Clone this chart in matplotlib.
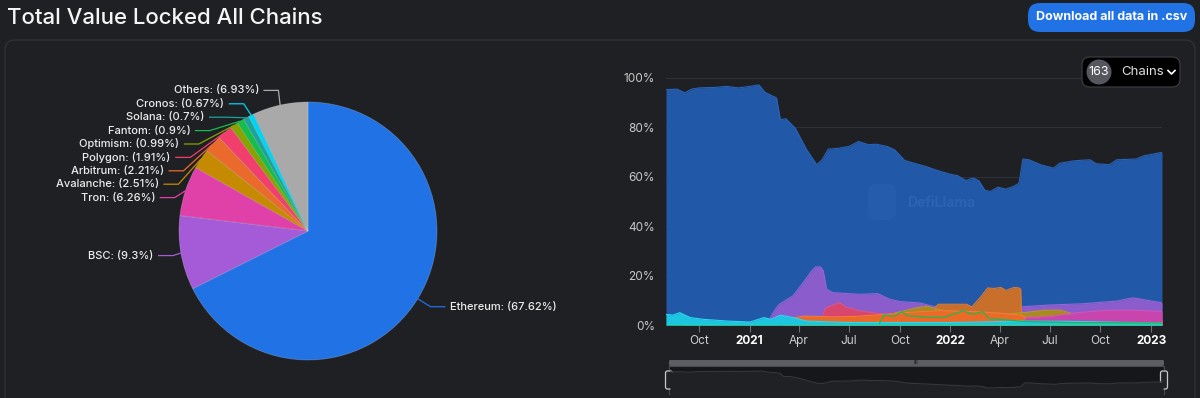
import numpy as np
import pandas as pd
import matplotlib
matplotlib.use("Agg")
import matplotlib.pyplot as plt
from matplotlib.patches import FancyBboxPatch, Circle

plt.rcParams['font.family'] = ['Inter', 'DejaVu Sans']

# ---- pie: current share of TVL (%) ----
pie_chains = ["Ethereum", "BSC", "Tron", "Avalanche", "Arbitrum", "Polygon",
              "Optimism", "Fantom", "Solana", "Cronos", "Others"]
pie_share = [67.62, 9.3, 6.26, 2.51, 2.21, 1.91, 0.99, 0.9, 0.7, 0.67, 6.93]
pie_colors = ["#2172e5", "#a55bd8", "#e041a8", "#c68a00", "#ea6a2c", "#f23e6c",
              "#86a300", "#14bd4c", "#18a39b", "#00d4f5", "#a9a9a9"]

# ---- dominance over time (% of total TVL) ----
eth_dates = ["2020-08-02", "2020-08-22", "2020-09-05", "2020-09-18", "2020-10-02",
             "2020-10-30", "2020-11-20", "2020-12-11", "2021-01-01", "2021-01-18",
             "2021-01-29", "2021-02-19", "2021-02-26", "2021-03-08", "2021-03-25",
             "2021-04-15", "2021-05-03", "2021-05-13", "2021-05-24", "2021-06-10",
             "2021-07-01", "2021-07-18", "2021-08-05", "2021-08-19", "2021-09-08",
             "2021-09-22", "2021-10-10", "2021-10-27", "2021-11-17", "2021-12-08",
             "2021-12-29", "2022-01-15", "2022-01-29", "2022-02-12", "2022-02-22",
             "2022-03-05", "2022-03-15", "2022-03-29", "2022-04-12", "2022-04-26",
             "2022-05-06", "2022-05-13", "2022-05-24", "2022-06-14", "2022-07-08",
             "2022-07-19", "2022-08-15", "2022-09-12", "2022-09-23", "2022-10-17",
             "2022-10-31", "2022-12-05", "2022-12-19", "2023-01-21"]
eth_share = [95.3, 95.5, 94.0, 95.5, 96.0, 96.2, 96.6, 96.0, 96.6, 97.2,
             94.2, 91.9, 83.1, 83.5, 79.7, 70.9, 64.9, 66.9, 71.2, 71.5,
             72.3, 74.3, 73.0, 73.2, 72.3, 70.9, 66.6, 65.5, 64.2, 62.6,
             61.2, 60.4, 58.5, 59.5, 58.4, 54.5, 54.1, 55.8, 55.0, 56.1,
             57.4, 67.2, 66.9, 64.9, 63.5, 65.5, 66.5, 66.9, 65.3, 64.9,
             66.9, 67.2, 68.5, 69.9]

bsc_dates = ["2020-09-01", "2020-12-01", "2021-01-15", "2021-02-05", "2021-02-16",
             "2021-02-24", "2021-03-21", "2021-04-08", "2021-04-24", "2021-05-01",
             "2021-05-10", "2021-05-15", "2021-05-21", "2021-06-01", "2021-07-21",
             "2021-08-22", "2021-09-13", "2021-10-01", "2021-11-07", "2021-11-30",
             "2022-01-31", "2022-03-31", "2022-05-13", "2022-07-01", "2022-08-30",
             "2022-10-31", "2022-11-29", "2023-01-21"]
bsc_share = [0.2, 0.8, 0.9, 2.0, 6.0, 8.4, 11.8, 17.0, 21.9, 23.5,
             23.5, 21.9, 14.5, 13.1, 12.4, 12.7, 10.4, 9.5, 8.9, 7.6,
             7.2, 7.0, 7.4, 8.1, 8.6, 9.7, 11.0, 9.0]

terra_dates = ["2021-06-01", "2021-10-01", "2021-11-25", "2021-12-10", "2022-01-31",
               "2022-02-09", "2022-02-24", "2022-03-10", "2022-03-22", "2022-04-03",
               "2022-04-12", "2022-04-27", "2022-05-06", "2022-05-09", "2022-05-11",
               "2022-06-01"]
terra_share = [0.5, 2.0, 4.5, 8.4, 8.4, 7.3, 11.0, 15.0, 14.8, 15.2,
               14.0, 15.2, 15.0, 14.5, 0.2, 0.0]

polygon_dates = ["2021-03-15", "2021-04-20", "2021-05-12", "2021-05-18", "2021-05-28",
                 "2021-06-13", "2021-06-25", "2021-07-21", "2021-08-13", "2021-09-15",
                 "2021-12-01", "2022-05-01", "2022-08-01", "2023-01-21"]
polygon_share = [0.5, 1.5, 2.5, 6.5, 7.7, 9.0, 7.2, 5.7, 5.0, 4.0,
                 3.0, 2.5, 2.5, 2.0]

heco_dates = ["2021-03-01", "2021-03-25", "2021-04-10", "2021-06-01", "2021-07-15",
              "2021-09-08", "2021-10-10", "2021-11-15", "2021-12-15", "2022-02-10",
              "2022-04-01", "2022-05-10", "2022-05-20", "2022-08-01", "2022-11-01",
              "2023-01-21"]
heco_share = [0.8, 3.0, 3.6, 3.3, 3.5, 4.4, 5.0, 5.5, 5.8, 5.5,
              4.8, 4.0, 2.8, 2.5, 2.0, 1.8]

avax_dates = ["2021-08-01", "2021-08-25", "2021-09-25", "2021-11-01", "2021-11-20",
              "2021-12-15", "2022-02-01", "2022-04-15", "2022-05-15", "2022-06-20",
              "2022-07-20", "2022-08-20", "2022-10-01", "2023-01-21"]
avax_share = [0.5, 2.5, 5.0, 7.0, 7.6, 6.0, 5.0, 4.5, 5.0, 6.0,
              6.0, 4.0, 3.0, 2.5]

tron_dates = ["2022-05-10", "2022-05-20", "2022-07-01", "2022-08-15", "2022-09-15",
              "2022-10-15", "2022-12-01", "2023-01-21"]
tron_share = [1.0, 3.0, 3.5, 4.8, 5.5, 6.0, 6.0, 5.5]

fantom_dates = ["2021-08-25", "2021-09-02", "2021-09-20", "2021-10-05", "2021-10-15",
                "2021-11-15", "2021-12-20", "2022-01-24", "2022-02-11", "2022-03-01",
                "2022-03-12", "2022-05-10", "2022-08-01", "2023-01-21"]
fantom_share = [0.5, 4.0, 3.5, 5.4, 3.8, 3.2, 3.0, 5.7, 4.3, 5.4,
                2.7, 1.5, 1.0, 0.8]

cyan_dates = ["2020-08-02", "2020-08-15", "2020-08-27", "2020-09-15", "2020-10-09",
              "2020-11-21", "2021-01-02", "2021-01-27", "2021-02-09", "2021-02-26",
              "2021-03-21", "2021-04-15", "2021-07-01", "2022-01-01", "2022-05-13",
              "2022-08-01", "2023-01-21"]
cyan_share = [4.3, 4.0, 5.0, 3.0, 2.3, 1.6, 1.2, 3.0, 2.3, 4.0,
              3.0, 1.6, 1.0, 1.0, 1.6, 1.5, 0.8]

base_dates = ["2020-08-02", "2021-06-01", "2022-06-01", "2023-01-21"]
base_share = [0.5, 0.4, 0.5, 0.5]

BG = "#1f2024"
W, H = 1200, 398

fig = plt.figure(figsize=(12, 3.98), dpi=100, facecolor=BG)

# background / page chrome in pixel coords (y down)
bg = fig.add_axes([0, 0, 1, 1], zorder=0)
bg.set_xlim(0, W)
bg.set_ylim(H, 0)
bg.axis("off")
bg.add_patch(FancyBboxPatch((5, 40), 1190, 400, boxstyle="round,pad=0,rounding_size=10",
                            facecolor=BG, edgecolor="#303137", lw=1.0))
bg.text(7, 18, "Total Value Locked All Chains", color="#f5f5f5", fontsize=16,
        fontweight="medium", va="center", ha="left")
bg.add_patch(FancyBboxPatch((1028, 3), 167, 29, boxstyle="round,pad=0,rounding_size=12",
                            facecolor="#2172e5", edgecolor="none"))
bg.text(1111.5, 17.5, "Download all data in .csv", color="white", fontsize=9,
        fontweight="bold", ha="center", va="center")

# data zoom slider
bg.add_patch(FancyBboxPatch((669, 360), 495, 6, boxstyle="round,pad=0,rounding_size=1.5",
                            facecolor="#5d5e63", edgecolor="none"))
bg.text(916.5, 363, "III", color="#2a2b2f", fontsize=4, ha="center", va="center",
        fontweight="bold")
bg.add_patch(FancyBboxPatch((669, 366), 495, 28, boxstyle="square,pad=0",
                            facecolor="#16171a", edgecolor="#4a4b50", lw=0.8))
for hx in (669, 1164):
    bg.add_patch(FancyBboxPatch((hx - 3.5, 371), 7, 18, boxstyle="round,pad=0,rounding_size=2",
                                facecolor="#222327", edgecolor="#c8c8c8", lw=0.9, zorder=5))

# ---- pie ----
R_PX = 129.0
CX, CY = 308, H - 231
pax = fig.add_axes([0, 0, 600 / W, 1], zorder=1)
pax.pie(pie_share, colors=pie_colors, startangle=90, counterclock=False, radius=1,
        center=(0, 0), frame=True,
        wedgeprops=dict(linewidth=0.6, edgecolor=(1, 1, 1, 0.22)))
pax.set_xlim(-CX / R_PX, (600 - CX) / R_PX)
pax.set_ylim(-CY / R_PX, (H - CY) / R_PX)
pax.axis("off")

len1, len2, gap = 15 / R_PX, 15 / R_PX, 4.5 / R_PX
spacing = 13.4 / R_PX
ell_a, ell_b = 137 / R_PX, 144 / R_PX
share = np.array(pie_share)
mid = (np.cumsum(share) - share / 2) / 100 * 2 * np.pi
ex, ey = np.sin(mid), np.cos(mid)
bx, by = ex * (1 + len1), ey * (1 + len1)

left = sorted([i for i in range(len(share)) if ex[i] < 0], key=lambda i: -by[i])
prev = None
for i in left:
    if prev is not None and by[i] > prev - spacing:
        by[i] = prev - spacing
    prev = by[i]
    bx[i] = -ell_a * np.sqrt(max(0.0, 1 - (by[i] / ell_b) ** 2))

for i, name in enumerate(pie_chains):
    side = -1 if ex[i] < 0 else 1
    endx = bx[i] + side * len2
    pax.plot([ex[i], bx[i], endx], [ey[i], by[i], by[i]], color=pie_colors[i], lw=0.9,
             solid_capstyle="butt")
    pax.text(endx + side * gap, by[i], f"{name}: ({pie_share[i]}%)", color="#ececec",
             fontsize=8, fontweight="medium", ha="right" if side < 0 else "left",
             va="center")

# ---- dominance area chart ----
ax = fig.add_axes([666 / W, (H - 325) / H, 496 / W, 247 / H], zorder=2)
ax.set_facecolor("none")
areas = [
    (eth_dates, eth_share, "#2159a8", "#2a63b8"),
    (bsc_dates, bsc_share, "#8a5ccc", "#9566d6"),
    (terra_dates, terra_share, "#c86f2c", "#d97c34"),
    (polygon_dates, polygon_share, "#d9466d", "#e2547a"),
    (avax_dates, avax_share, "#a98a1e", "#b89828"),
    (heco_dates, heco_share, "#ea6a28", "#f47a3a"),
    (tron_dates, tron_share, "#c845ad", "#d454b8"),
    (cyan_dates, cyan_share, "#1cc6e0", "#2ad8f0"),
]
for d, v, fc, lc in areas:
    x = pd.to_datetime(d)
    ax.fill_between(x, 0, v, color=fc, lw=0, zorder=2)
    ax.plot(x, v, color=lc, lw=0.8, zorder=2)
# thin-line series on top
ax.plot(pd.to_datetime(fantom_dates), fantom_share, color="#22b850", lw=0.9, zorder=3)
ax.fill_between(pd.to_datetime(base_dates), 0, base_share, color="#1fd9a2", lw=0, zorder=3)

start, end = pd.Timestamp(eth_dates[0]), pd.Timestamp(eth_dates[-1])
ax.set_xlim(start, end)
ax.set_ylim(0, 100)
ax.set_axisbelow(True)
ax.set_yticks([0, 20, 40, 60, 80, 100])
ax.set_yticklabels([f"{v}%" for v in [0, 20, 40, 60, 80, 100]])
ax.yaxis.grid(True, color="#2f3137", lw=0.8)
ax.tick_params(axis="y", length=0, pad=8, labelsize=8.5, labelcolor="#c8c8c8")

tick_dates = pd.date_range("2020-10-01", "2023-01-01", freq="QS")
tick_labels = [str(d.year) if d.month == 1 else d.strftime("%b") for d in tick_dates]
ax.set_xticks(tick_dates)
ax.set_xticklabels(tick_labels)
ax.tick_params(axis="x", length=5, width=0.8, color="#6b6e76", pad=2, labelsize=8.5,
               labelcolor="#cfcfcf")
for lab, d in zip(ax.get_xticklabels(), tick_dates):
    if d.month == 1:
        lab.set_fontweight("bold")
        lab.set_color("white")
for s in ax.spines.values():
    s.set_visible(False)

# slider data shadow
sax = fig.add_axes([670 / W, (H - 394) / H, 493 / W, 28 / H], zorder=3)
sax.set_facecolor("none")
sx = pd.to_datetime(eth_dates)
sax.fill_between(sx, 0, eth_share, color="#202125", lw=0)
sax.plot(sx, eth_share, color="#36373c", lw=0.8)
sax.set_xlim(start, end)
sax.set_ylim(39, 110)
sax.axis("off")

# overlay: watermark and chain selector
top = fig.add_axes([0, 0, 1, 1], zorder=4)
top.set_xlim(0, W)
top.set_ylim(H, 0)
top.axis("off")
top.add_patch(FancyBboxPatch((868, 184), 28, 36, boxstyle="round,pad=0,rounding_size=8",
                             facecolor="#2a62b2", edgecolor="none", alpha=0.45))
top.text(907, 203, "DefiLlama", color="#2c64b4", fontsize=10, fontweight="bold",
         ha="left", va="center")
top.add_patch(FancyBboxPatch((1082, 57), 98, 30, boxstyle="round,pad=0,rounding_size=8",
                             facecolor="#000000", edgecolor="#3a3b40", lw=0.9))
top.add_patch(Circle((1099, 72), 12.5, facecolor="#55565e", edgecolor="none"))
top.text(1099, 72, "163", color="white", fontsize=9, ha="center", va="center")
top.text(1121, 72, "Chains", color="#e0e0e0", fontsize=9.5, ha="left", va="center")
top.plot([1168, 1171.5, 1175], [70.5, 74, 70.5], color="white", lw=1.2)

fig.savefig("out.png", dpi=100, facecolor=BG)
